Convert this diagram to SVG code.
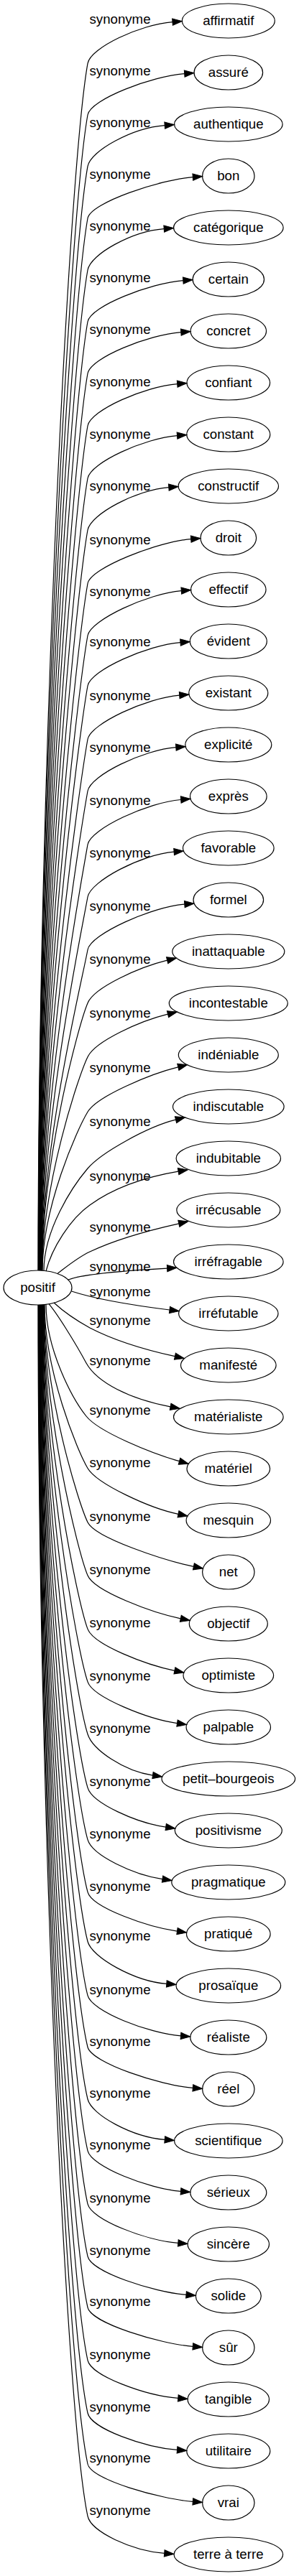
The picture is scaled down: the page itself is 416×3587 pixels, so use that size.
<svg xmlns="http://www.w3.org/2000/svg" width="416" height="3587" viewBox="0 0 416 3587">
<defs>
<marker id="arr" markerUnits="userSpaceOnUse" markerWidth="15" markerHeight="11" refX="0" refY="4.67" orient="auto" overflow="visible">
<path d="M0,0 L13.3,4.67 L0,9.33 Z" fill="#000" stroke="#000" stroke-width="1"/>
</marker>
</defs>
<style>
text{font-family:"Liberation Sans",Arial,Helvetica,sans-serif;font-size:18.67px;text-anchor:middle;fill:#000}
.node ellipse{fill:none;stroke:#000;stroke-width:1.2}
#edges path{fill:none;stroke:#000;stroke-width:1.2;marker-end:url(#arr)}
</style>
<rect x="0" y="0" width="416" height="3587" fill="#fff"/>
<g id="edges">
<path d="M53,1769 C53,1096.7 95.1,239.6 122,88.3 C126,66.3 195,34.1 240,30.6"/>
<path d="M53.3,1769 C53.3,1125.4 96.3,304.8 122,160 C126,138 211.7,106.1 256.7,102.6"/>
<path d="M53.6,1769 C53.6,1154.1 97.4,370.1 122,231.7 C126,209.7 184.2,178.1 229.2,174.6"/>
<path d="M53.9,1769 C53.9,1183 98.6,435.9 122,304 C126,282 223.3,250.1 268.3,246.6"/>
<path d="M54.2,1769 C54.2,1211.8 99.7,501.4 122,376 C126,354 183.2,322.1 228.2,318.6"/>
<path d="M54.5,1769 C54.5,1240.6 100.9,566.9 122,448 C126,426 209.8,394.1 254.8,390.6"/>
<path d="M54.8,1769 C54.8,1269.4 102,632.4 122,520 C126,498 206.8,466.1 251.8,462.6"/>
<path d="M55.1,1769 C55.1,1298.6 103.2,698.8 122,593 C126,571 201.7,538.1 246.7,534.6"/>
<path d="M55.4,1769 C55.4,1327.8 104.4,765.3 122,666 C126,644 201.5,610.1 246.5,606.6"/>
<path d="M55.7,1769 C55.7,1356.6 105.5,830.8 122,738 C126,716 189.8,682.1 234.8,678.6"/>
<path d="M56,1769 C56,1386.4 106.7,898.6 122,812.5 C126,790.5 220.7,754.1 265.7,750.6"/>
<path d="M56.3,1769 C56.3,1415.4 107.9,964.6 122,885 C126,863 207.3,826.1 252.3,822.6"/>
<path d="M56.6,1769 C56.6,1443.4 109,1028.3 122,955 C126,933 206,898.1 251,894.6"/>
<path d="M56.9,1769 C56.9,1473.2 110.2,1096.1 122,1029.5 C126,1007.5 204.7,971.6 249.7,968.1"/>
<path d="M57.2,1769 C57.2,1502 111.3,1161.6 122,1101.5 C126,1079.5 199.8,1044.1 244.8,1040.6"/>
<path d="M57.5,1769 C57.5,1531.8 112.5,1229.4 122,1176 C126,1154 206.7,1117 251.7,1113.5"/>
<path d="M57.8,1769 C57.8,1561 113.7,1295.8 122,1249 C126,1227 197.1,1189.6 242.1,1186.1"/>
<path d="M58.1,1769 C58.1,1590.4 114.9,1362.7 122,1322.5 C126,1300.5 211.8,1262.6 256.8,1259.1"/>
<path d="M58.4,1769 C58.4,1620.1 108,1430.2 122,1396.7 C131.2,1374.7 193.8,1346.8 232.6,1337.2"/>
<path d="M58.7,1769 C58.7,1650.1 109,1498.5 122,1471.7 C132.7,1449.7 194.7,1421.8 233.5,1412.2"/>
<path d="M59,1769.3 C59,1680.9 107,1573.3 122,1548.3 C135.2,1526.3 209,1495.5 247.8,1485.9"/>
<path d="M61,1769.4 C61,1712.4 100.7,1652 122,1627 C140.7,1605 205.7,1568.8 244.5,1559.2"/>
<path d="M64,1770 C72,1738 98,1697 125,1678 C150,1660 190,1641 248.1,1631.2"/>
<path d="M80,1773.4 C95,1762 108,1751 125,1743 C150,1731 190,1717 248.8,1703.8"/>
<path d="M95,1782 C115,1774 180,1769 232.6,1766.1"/>
<path d="M99.5,1798 C130,1808 180,1817 236,1824"/>
<path d="M75,1814 C88,1826 105,1838 125,1849 C150,1862 190,1877 243.4,1888.7"/>
<path d="M68,1815.7 C80,1830 105,1870 120,1898 C135,1925 180,1948 237.1,1958.8"/>
<path d="M64,1816.3 C64,1878.7 100.2,1947 120,1972 C137.4,1994 211,2023.8 249.5,2034.7"/>
<path d="M62,1817 C62,1908 107.3,2019.5 122,2044.5 C135,2066.5 208.8,2100.3 248,2108.3"/>
<path d="M61.5,1817 C61.5,1938.1 108.9,2092.5 122,2119.7 C132.6,2141.7 230.2,2173.3 269.4,2181.3"/>
<path d="M61.1,1817 C61.1,1967.7 107.9,2159.9 122,2193.8 C131.1,2215.8 212.1,2245.8 251.3,2253.8"/>
<path d="M60.6,1817 C60.6,1997.6 106.9,2227.8 122,2268.4 C130.2,2290.4 203.7,2318.3 242.9,2326.3"/>
<path d="M60.2,1817 C60.2,2027 106,2294.7 122,2341.9 C129.5,2363.9 206.9,2394 246.5,2399.6"/>
<path d="M59.7,1817 C59.7,2056.1 104.9,2361 122,2414.8 C129,2436.8 172.9,2466.5 212.5,2472.1"/>
<path d="M59.3,1817 C59.3,2086 103.9,2428.9 122,2489.4 C128.6,2511.4 191.1,2538.5 230.7,2544.1"/>
<path d="M58.8,1817 C58.8,2114.9 103,2494.7 122,2561.7 C128.2,2583.7 186.4,2611 226,2616.6"/>
<path d="M58.4,1817 C58.4,2144 102,2561 122,2634.6 C128,2656.6 206.9,2683.5 246.5,2689.1"/>
<path d="M57.9,1817 C57.9,2171.6 101,2623.7 122,2703.5 C127.8,2725.5 186.8,2758.8 231.8,2762.4"/>
<path d="M57.5,1817 C57.5,2201.7 100,2692.1 122,2778.7 C127.6,2800.7 206.5,2831.3 251.5,2834.9"/>
<path d="M57,1817 C57,2230.4 99,2757.5 122,2850.5 C127.4,2872.5 223.3,2903.8 268.3,2907.4"/>
<path d="M56.6,1817 C56.6,2259.4 98.1,2823.5 122,2923 C127.3,2945 184.2,2975.8 229.2,2979.4"/>
<path d="M56.1,1817 C56.1,2288.1 97.1,2888.8 122,2994.8 C127.2,3016.8 206.5,3047.8 251.5,3051.4"/>
<path d="M55.7,1817 C55.7,2317.8 96.1,2956.2 122,3068.9 C127.1,3090.9 202.8,3119.8 247.8,3123.4"/>
<path d="M55.2,1817 C55.2,2346.9 95.1,3022.6 122,3141.8 C127,3163.8 214,3191.8 259,3195.4"/>
<path d="M54.8,1817 C54.8,2375.4 94.2,3087.4 122,3213 C126.9,3235 223.3,3263.8 268.3,3267.4"/>
<path d="M54.3,1817 C54.3,2404.8 93.2,3154.3 122,3286.6 C126.8,3308.6 202.8,3335.8 247.8,3339.4"/>
<path d="M53.9,1817 C53.9,2434.2 92.1,3221.1 122,3360 C126.7,3382 201.5,3407.8 246.5,3411.4"/>
<path d="M53.4,1817 C53.4,2462.6 91.2,3285.7 122,3431 C126.7,3453 223.3,3479.8 268.3,3483.4"/>
<path d="M53,1817 C53,2491.7 90.3,3351.9 122,3503.7 C126.6,3525.7 183.7,3551.8 228.7,3555.4"/>
<g id="edge-labels">
<text x="167" y="33.3">synonyme</text>
<text x="167" y="105">synonyme</text>
<text x="167" y="176.7">synonyme</text>
<text x="167" y="249">synonyme</text>
<text x="167" y="321">synonyme</text>
<text x="167" y="393">synonyme</text>
<text x="167" y="465">synonyme</text>
<text x="167" y="538">synonyme</text>
<text x="167" y="611">synonyme</text>
<text x="167" y="683">synonyme</text>
<text x="167" y="757.5">synonyme</text>
<text x="167" y="830">synonyme</text>
<text x="167" y="900">synonyme</text>
<text x="167" y="974.5">synonyme</text>
<text x="167" y="1046.5">synonyme</text>
<text x="167" y="1121">synonyme</text>
<text x="167" y="1194">synonyme</text>
<text x="167" y="1267.5">synonyme</text>
<text x="167" y="1341.7">synonyme</text>
<text x="167" y="1416.7">synonyme</text>
<text x="167" y="1493.3">synonyme</text>
<text x="167" y="1568.3">synonyme</text>
<text x="167" y="1644">synonyme</text>
<text x="167" y="1715">synonyme</text>
<text x="167" y="1770">synonyme</text>
<text x="167" y="1805">synonyme</text>
<text x="167" y="1845">synonyme</text>
<text x="167" y="1900.7">synonyme</text>
<text x="167" y="1970">synonyme</text>
<text x="167" y="2042.5">synonyme</text>
<text x="167" y="2117.7">synonyme</text>
<text x="167" y="2191.8">synonyme</text>
<text x="167" y="2266.4">synonyme</text>
<text x="167" y="2339.9">synonyme</text>
<text x="167" y="2412.8">synonyme</text>
<text x="167" y="2487.4">synonyme</text>
<text x="167" y="2559.7">synonyme</text>
<text x="167" y="2632.6">synonyme</text>
<text x="167" y="2701.5">synonyme</text>
<text x="167" y="2776.7">synonyme</text>
<text x="167" y="2848.5">synonyme</text>
<text x="167" y="2921">synonyme</text>
<text x="167" y="2992.8">synonyme</text>
<text x="167" y="3066.9">synonyme</text>
<text x="167" y="3139.8">synonyme</text>
<text x="167" y="3211">synonyme</text>
<text x="167" y="3284.6">synonyme</text>
<text x="167" y="3358">synonyme</text>
<text x="167" y="3429">synonyme</text>
<text x="167" y="3501.7">synonyme</text>
</g>
</g>
<g id="node-positif" class="node"><ellipse cx="52.5" cy="1793" rx="47.5" ry="24"/><text x="52.5" y="1799">positif</text></g>
<g id="node-affirmatif" class="node"><ellipse cx="317.8" cy="29" rx="64.5" ry="24"/><text x="317.8" y="35">affirmatif</text></g>
<g id="node-assure" class="node"><ellipse cx="317.8" cy="101" rx="47.8" ry="24"/><text x="317.8" y="107">assuré</text></g>
<g id="node-authentique" class="node"><ellipse cx="317.8" cy="173" rx="75.3" ry="24"/><text x="317.8" y="179">authentique</text></g>
<g id="node-bon" class="node"><ellipse cx="317.8" cy="245" rx="36.2" ry="24"/><text x="317.8" y="251">bon</text></g>
<g id="node-categorique" class="node"><ellipse cx="317.8" cy="317" rx="76.3" ry="24"/><text x="317.8" y="323">catégorique</text></g>
<g id="node-certain" class="node"><ellipse cx="317.8" cy="389" rx="49.7" ry="24"/><text x="317.8" y="395">certain</text></g>
<g id="node-concret" class="node"><ellipse cx="317.8" cy="461" rx="52.7" ry="24"/><text x="317.8" y="467">concret</text></g>
<g id="node-confiant" class="node"><ellipse cx="317.8" cy="533" rx="57.8" ry="24"/><text x="317.8" y="539">confiant</text></g>
<g id="node-constant" class="node"><ellipse cx="317.8" cy="605" rx="58" ry="24"/><text x="317.8" y="611">constant</text></g>
<g id="node-constructif" class="node"><ellipse cx="317.8" cy="677" rx="69.7" ry="24"/><text x="317.8" y="683">constructif</text></g>
<g id="node-droit" class="node"><ellipse cx="317.8" cy="749" rx="38.8" ry="24"/><text x="317.8" y="755">droit</text></g>
<g id="node-effectif" class="node"><ellipse cx="317.8" cy="821" rx="52.2" ry="24"/><text x="317.8" y="827">effectif</text></g>
<g id="node-evident" class="node"><ellipse cx="317.8" cy="893" rx="53.5" ry="24"/><text x="317.8" y="899">évident</text></g>
<g id="node-existant" class="node"><ellipse cx="317.8" cy="965" rx="55" ry="24"/><text x="317.8" y="971">existant</text></g>
<g id="node-explicite" class="node"><ellipse cx="317.8" cy="1037" rx="60" ry="24"/><text x="317.8" y="1043">explicité</text></g>
<g id="node-expres" class="node"><ellipse cx="317.8" cy="1109" rx="53.3" ry="24"/><text x="317.8" y="1115">exprès</text></g>
<g id="node-favorable" class="node"><ellipse cx="317.8" cy="1181" rx="63.3" ry="24"/><text x="317.8" y="1187">favorable</text></g>
<g id="node-formel" class="node"><ellipse cx="317.8" cy="1253" rx="48.8" ry="24"/><text x="317.8" y="1259">formel</text></g>
<g id="node-inattaquable" class="node"><ellipse cx="317.8" cy="1325" rx="78" ry="24"/><text x="317.8" y="1331">inattaquable</text></g>
<g id="node-incontestable" class="node"><ellipse cx="317.8" cy="1397" rx="82.5" ry="24"/><text x="317.8" y="1403">incontestable</text></g>
<g id="node-indeniable" class="node"><ellipse cx="317.8" cy="1469" rx="69.5" ry="24"/><text x="317.8" y="1475">indéniable</text></g>
<g id="node-indiscutable" class="node"><ellipse cx="317.8" cy="1541" rx="77.3" ry="24"/><text x="317.8" y="1547">indiscutable</text></g>
<g id="node-indubitable" class="node"><ellipse cx="317.8" cy="1613" rx="72.7" ry="24"/><text x="317.8" y="1619">indubitable</text></g>
<g id="node-irrecusable" class="node"><ellipse cx="317.8" cy="1685" rx="72" ry="24"/><text x="317.8" y="1691">irrécusable</text></g>
<g id="node-irrefragable" class="node"><ellipse cx="317.8" cy="1757" rx="76.3" ry="24"/><text x="317.8" y="1763">irréfragable</text></g>
<g id="node-irrefutable" class="node"><ellipse cx="317.8" cy="1829" rx="69.2" ry="24"/><text x="317.8" y="1835">irréfutable</text></g>
<g id="node-manifeste" class="node"><ellipse cx="317.8" cy="1901" rx="66.3" ry="24"/><text x="317.8" y="1907">manifesté</text></g>
<g id="node-materialiste" class="node"><ellipse cx="317.8" cy="1973" rx="76.3" ry="24"/><text x="317.8" y="1979">matérialiste</text></g>
<g id="node-materiel" class="node"><ellipse cx="317.8" cy="2045" rx="57.8" ry="24"/><text x="317.8" y="2051">matériel</text></g>
<g id="node-mesquin" class="node"><ellipse cx="317.8" cy="2117" rx="58.7" ry="24"/><text x="317.8" y="2123">mesquin</text></g>
<g id="node-net" class="node"><ellipse cx="317.8" cy="2189" rx="36.2" ry="24"/><text x="317.8" y="2195">net</text></g>
<g id="node-objectif" class="node"><ellipse cx="317.8" cy="2261" rx="54.5" ry="24"/><text x="317.8" y="2267">objectif</text></g>
<g id="node-optimiste" class="node"><ellipse cx="317.8" cy="2333" rx="62.8" ry="24"/><text x="317.8" y="2339">optimiste</text></g>
<g id="node-palpable" class="node"><ellipse cx="317.8" cy="2405" rx="58.7" ry="24"/><text x="317.8" y="2411">palpable</text></g>
<g id="node-petit-bourgeois" class="node"><ellipse cx="317.8" cy="2477" rx="92.8" ry="24"/><text x="317.8" y="2483">petit–bourgeois</text></g>
<g id="node-positivisme" class="node"><ellipse cx="317.8" cy="2549" rx="74.5" ry="24"/><text x="317.8" y="2555">positivisme</text></g>
<g id="node-pragmatique" class="node"><ellipse cx="317.8" cy="2621" rx="79" ry="24"/><text x="317.8" y="2627">pragmatique</text></g>
<g id="node-pratique" class="node"><ellipse cx="317.8" cy="2693" rx="58.3" ry="24"/><text x="317.8" y="2699">pratiqué</text></g>
<g id="node-prosaique" class="node"><ellipse cx="317.8" cy="2765" rx="72.8" ry="24"/><text x="317.8" y="2771">prosaïque</text></g>
<g id="node-realiste" class="node"><ellipse cx="317.8" cy="2837" rx="53" ry="24"/><text x="317.8" y="2843">réaliste</text></g>
<g id="node-reel" class="node"><ellipse cx="317.8" cy="2909" rx="36.2" ry="24"/><text x="317.8" y="2915">réel</text></g>
<g id="node-scientifique" class="node"><ellipse cx="317.8" cy="2981" rx="75.3" ry="24"/><text x="317.8" y="2987">scientifique</text></g>
<g id="node-serieux" class="node"><ellipse cx="317.8" cy="3053" rx="53" ry="24"/><text x="317.8" y="3059">sérieux</text></g>
<g id="node-sincere" class="node"><ellipse cx="317.8" cy="3125" rx="56.7" ry="24"/><text x="317.8" y="3131">sincère</text></g>
<g id="node-solide" class="node"><ellipse cx="317.8" cy="3197" rx="45.5" ry="24"/><text x="317.8" y="3203">solide</text></g>
<g id="node-sur" class="node"><ellipse cx="317.8" cy="3269" rx="36.2" ry="24"/><text x="317.8" y="3275">sûr</text></g>
<g id="node-tangible" class="node"><ellipse cx="317.8" cy="3341" rx="56.7" ry="24"/><text x="317.8" y="3347">tangible</text></g>
<g id="node-utilitaire" class="node"><ellipse cx="317.8" cy="3413" rx="58" ry="24"/><text x="317.8" y="3419">utilitaire</text></g>
<g id="node-vrai" class="node"><ellipse cx="317.8" cy="3485" rx="36.2" ry="24"/><text x="317.8" y="3491">vrai</text></g>
<g id="node-terre-a-terre" class="node"><ellipse cx="317.8" cy="3557" rx="75.8" ry="24"/><text x="317.8" y="3563">terre à terre</text></g>
</svg>
